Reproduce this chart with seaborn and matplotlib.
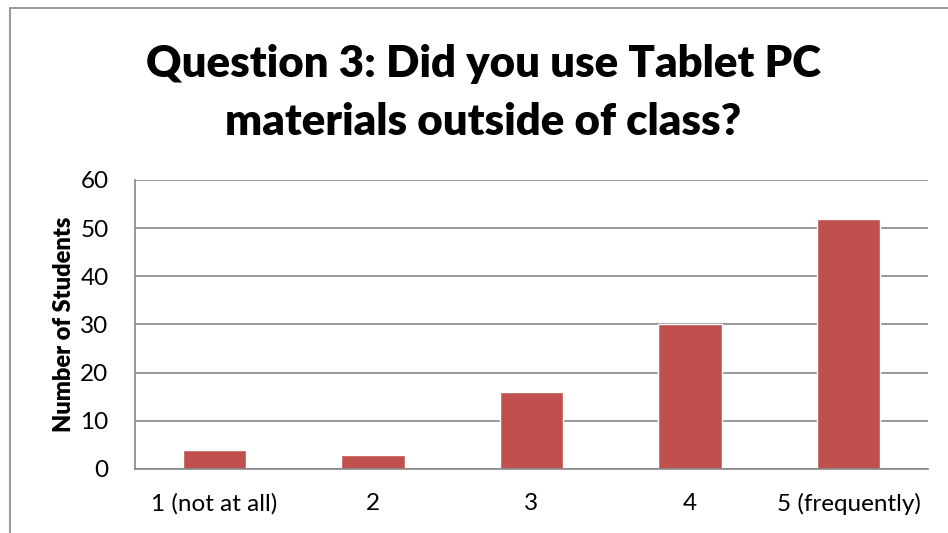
import matplotlib
matplotlib.use("Agg")
import matplotlib.pyplot as plt
import seaborn as sns
import pandas as pd
from matplotlib.lines import Line2D

# datos
respuestas = ["1 (not at all)", "2", "3", "4", "5 (frequently)"]
estudiantes = [4, 3, 16, 30, 52]
ticks_y = [0, 10, 20, 30, 40, 50, 60]

df = pd.DataFrame({"Respuesta": respuestas, "Estudiantes": estudiantes})

sns.set_theme(style="white")
plt.rcParams["font.family"] = ["Lato", "DejaVu Sans"]
plt.rcParams["text.color"] = "black"

fig = plt.figure(figsize=(9.48, 5.33), dpi=100)
ax = fig.add_axes([0.1424, 0.1201, 0.9789 - 0.1424, 0.6623 - 0.1201])

sns.barplot(data=df, x="Respuesta", y="Estudiantes", color="#C0504D",
            saturation=1, width=0.4, ax=ax)

ax.set_ylim(0, 60)
ax.set_xlim(-0.5, 4.5)
ax.set_yticks(ticks_y)
ax.yaxis.grid(True, color="#868686", linewidth=1.2)
ax.set_axisbelow(True)
for lado in ["top", "right"]:
    ax.spines[lado].set_visible(False)
for lado in ["left", "bottom"]:
    ax.spines[lado].set_color("#868686")
    ax.spines[lado].set_linewidth(1.2)
ax.tick_params(axis="both", length=0, labelsize=17.5, colors="black")
ax.tick_params(axis="x", pad=17.5)
ax.tick_params(axis="y", pad=19)

ax.set_xlabel("")
ax.set_ylabel("Number of Students", fontsize=17, fontweight="heavy",
              color="black", labelpad=4)

fig.text(0.51, 0.826, "Question 3: Did you use Tablet PC\nmaterials outside of class?",
         ha="center", va="center", fontsize=31.5, fontweight="heavy",
         color="black", linespacing=1.55)

# marco del grafico
fig.add_artist(Line2D([10 / 948, 10 / 948], [0, 1 - 8 / 533], color="#868686", lw=1.2))
fig.add_artist(Line2D([10 / 948, 1], [1 - 8 / 533, 1 - 8 / 533], color="#868686", lw=1.2))

fig.savefig("out.png", dpi=100)
